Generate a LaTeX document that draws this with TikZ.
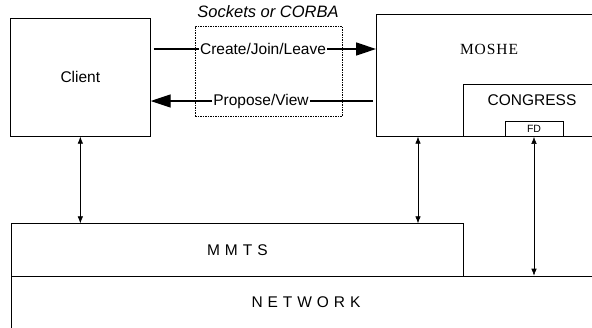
\documentclass[tikz,border=0pt]{standalone}
\usepackage{fontspec}
\setmainfont{Liberation Sans}
\newfontfamily\mosheserif[LetterSpace=6]{Liberation Serif}
\newfontfamily\trackedsans[LetterSpace=32]{Liberation Sans}
\usetikzlibrary{arrows.meta}

\begin{document}
\begin{tikzpicture}[
  x=1pt, y=-1pt,
  font=\fontsize{15.5}{18}\selectfont,
  box/.style={draw, line width=0.7pt, inner sep=0pt, anchor=north west},
  msg/.style={fill=white, inner sep=1pt},
  callarrow/.style={-{Triangle[length=20pt,width=13pt]}, line width=1.4pt},
  link/.style={{Latex[length=7pt,width=5.5pt]}-{Latex[length=7pt,width=5.5pt]}, line width=0.6pt}
]
\useasboundingbox (0,0) rectangle (592,327);
\clip (0,0) rectangle (592,327);
\node[box, minimum width=140pt, minimum height=118pt] (client) at (10,18) {Client};
\node[box, minimum width=260pt, minimum height=122pt] (moshe) at (376,14) {};
\node[font=\mosheserif\fontsize{15.5}{18}\selectfont] (moshename) at (489,49) {MOSHE};
\node[box, minimum width=200pt, minimum height=52pt] (congress) at (463,84) {};
\node (congressname) at (532,100) {CONGRESS};
\node[draw, fill=white, line width=0.7pt, inner sep=0pt, minimum width=58pt, minimum height=15pt,
  font=\fontsize{10.5}{12}\selectfont] (fd) at (534,129) {FD};
\node[box, dash pattern=on 1.5pt off 1pt, line width=0.6pt, minimum width=147pt, minimum height=90pt] (channel) at (195,26) {};
\node[font=\itshape\fontsize{16.5}{18}\selectfont] (transport) at (268,12) {Sockets or CORBA};
\node[msg] (create) at (263,49) {Create/Join/Leave};
\node[msg] (propose) at (261,101) {Propose/View};
\node[box, minimum width=452pt, minimum height=52.4pt, font=\trackedsans\fontsize{15.5}{18}\selectfont] (mmts) at (11,223.3) {MMTS};
\node[box, minimum width=620pt, minimum height=70pt] (network) at (11,275.7) {};
\node[font=\trackedsans\fontsize{15.5}{18}\selectfont] (networkname) at (306,301.7) {NETWORK};
\draw[line width=1.4pt, shorten <=3pt] (client.east |- create) -- (create);
\draw[callarrow] (create) -- (moshe.west |- create);
\draw[line width=1.4pt, shorten <=3pt] (moshe.west |- propose) -- (propose);
\draw[callarrow] (propose) -- (client.east |- propose);
\draw[link] (client) -- (client |- mmts.north);
\draw[link] ([xshift=42pt]moshe.south west) -- ([xshift=42pt]moshe.south west |- mmts.north);
\draw[link] (fd) -- (fd |- network.north);
\end{tikzpicture}
\end{document}
